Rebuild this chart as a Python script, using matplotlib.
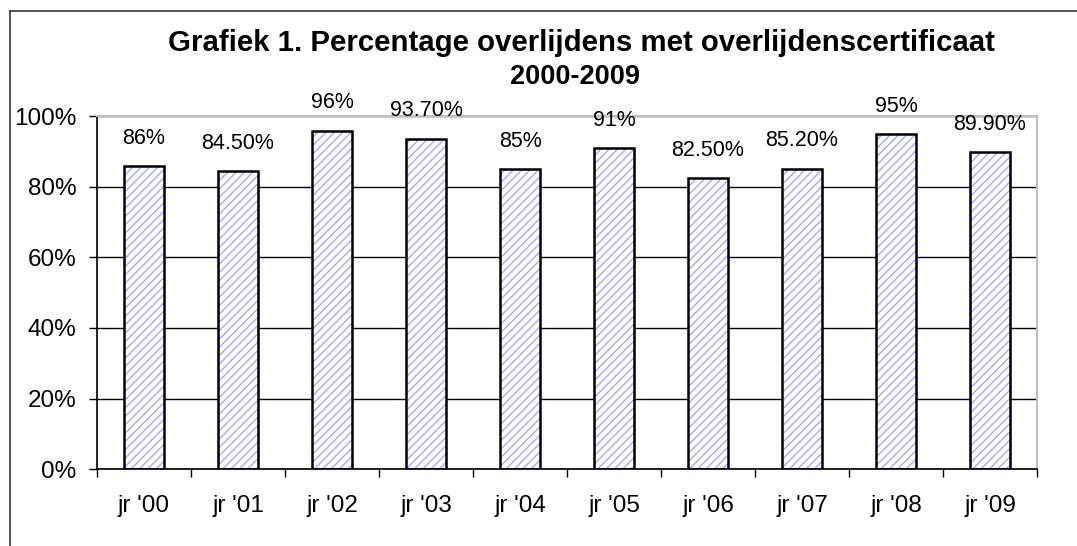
import matplotlib
matplotlib.use('Agg')
import matplotlib.pyplot as plt
from matplotlib.lines import Line2D
import numpy as np

plt.rcParams['font.family'] = ['Liberation Sans', 'DejaVu Sans']
plt.rcParams['hatch.linewidth'] = 1.0

years = ["jr '00", "jr '01", "jr '02", "jr '03", "jr '04",
         "jr '05", "jr '06", "jr '07", "jr '08", "jr '09"]
percent = [86, 84.5, 96, 93.7, 85, 91, 82.5, 85.2, 95, 89.9]
value_labels = ['86%', '84.50%', '96%', '93.70%', '85%',
                '91%', '82.50%', '85.20%', '95%', '89.90%']
y_ticks = [0, 20, 40, 60, 80, 100]

fig = plt.figure(figsize=(10.77, 5.46), dpi=100)
ax = fig.add_axes([97/1077, 77/546, 940/1077, 352.5/546])

x = np.arange(len(years))
bw = 0.43
# hatched fill, then black outline on top
ax.bar(x, percent, width=bw, color='white', edgecolor='#a8a8ff', hatch='////', linewidth=0, zorder=2)
ax.bar(x, percent, width=bw, fill=False, edgecolor='black', linewidth=1.8, zorder=3)

for xi, v, lab in zip(x, percent, value_labels):
    ax.annotate(lab, (xi, v), xytext=(0, 20), textcoords='offset points',
                ha='center', va='center', fontsize=15.5, clip_on=False, zorder=4)

ax.set_xlim(-0.5, len(years) - 0.5)
ax.set_ylim(0, 100)
ax.set_yticks(y_ticks)
ax.set_yticklabels([f'{t}%' for t in y_ticks])
ax.yaxis.grid(True, color='black', linewidth=1)
ax.set_axisbelow(True)

ax.set_xticks(x)
ax.set_xticklabels(years)
ax.set_xticks(np.arange(-0.5, len(years)), minor=True)
ax.tick_params(axis='x', which='major', length=0, pad=19, labelsize=17.5)
ax.tick_params(axis='x', which='minor', length=6, width=1, direction='out')
ax.tick_params(axis='y', length=6, width=1, pad=9, labelsize=17.5)

ax.spines['left'].set_linewidth(1.2)
ax.spines['bottom'].set_linewidth(1.2)
ax.spines['top'].set_color('#c0c0c0')
ax.spines['right'].set_color('#c0c0c0')
ax.spines['top'].set_linewidth(1.5)
ax.spines['right'].set_linewidth(1.5)

fig.text(581/1077, (546-43)/546, 'Grafiek 1. Percentage overlijdens met overlijdenscertificaat',
         ha='center', va='center', fontsize=21.2, fontweight='bold')
fig.text(575/1077, (546-77)/546, '2000-2009',
         ha='center', va='center', fontsize=19.5, fontweight='bold')

# chart area border (left and top visible)
fig.add_artist(Line2D([10/1077, 10/1077], [0, (546-11)/546], transform=fig.transFigure, color='#333333', linewidth=1.2))
fig.add_artist(Line2D([10/1077, 1], [(546-11)/546, (546-11)/546], transform=fig.transFigure, color='#333333', linewidth=1.2))

fig.savefig('out.png', dpi=100)
